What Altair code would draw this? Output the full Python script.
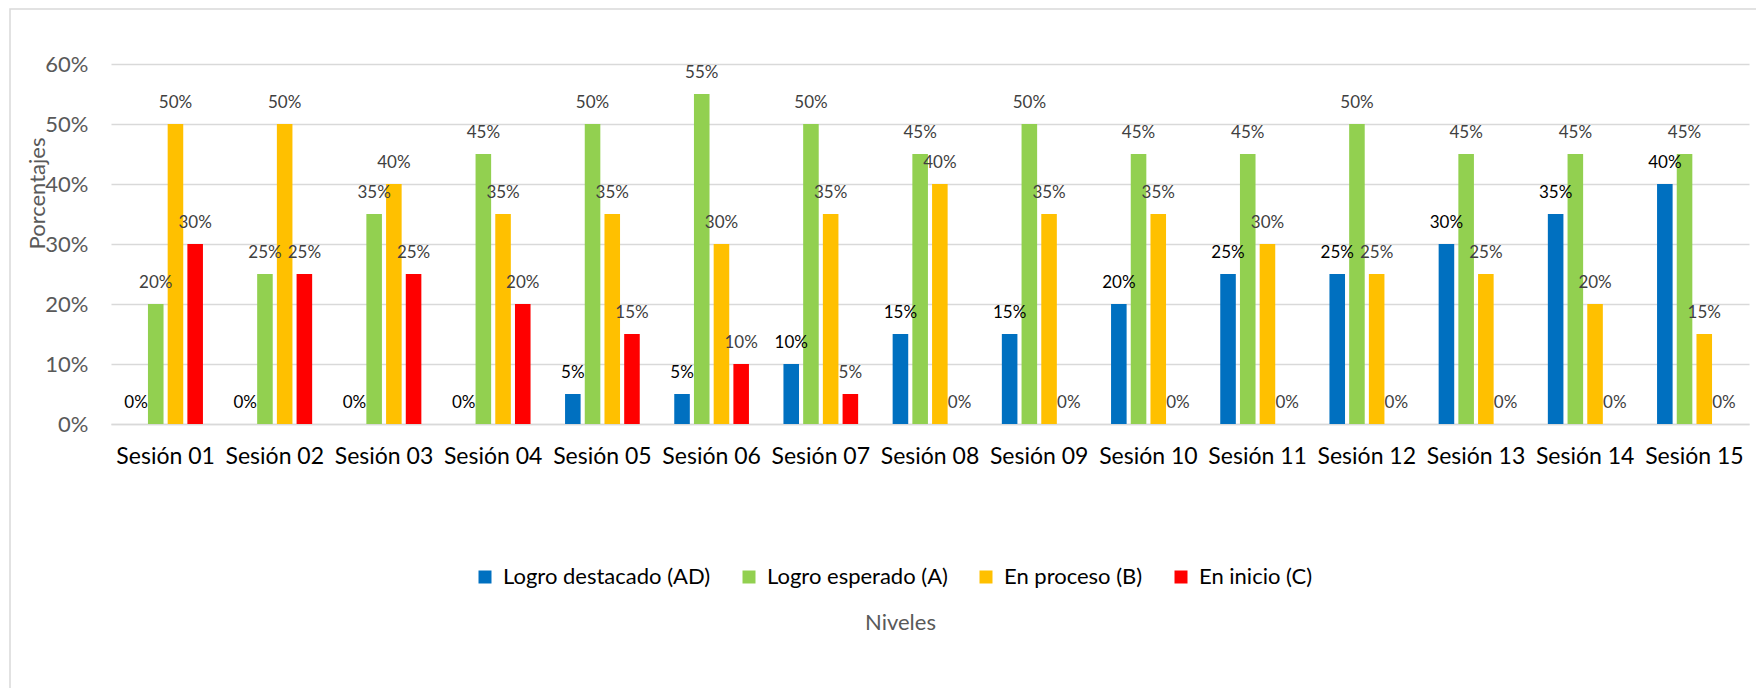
import altair as alt
import pandas as pd

sessions = ["Sesión 01", "Sesión 02", "Sesión 03", "Sesión 04", "Sesión 05",
            "Sesión 06", "Sesión 07", "Sesión 08", "Sesión 09", "Sesión 10",
            "Sesión 11", "Sesión 12", "Sesión 13", "Sesión 14", "Sesión 15"]
levels = ["Logro destacado (AD)", "Logro esperado (A)", "En proceso (B)", "En inicio (C)"]
colors = ["#0070C0", "#92D050", "#FFC000", "#FF0000"]

ad = [0, 0, 0, 0, 5, 5, 10, 15, 15, 20, 25, 25, 30, 35, 40]
a = [20, 25, 35, 45, 50, 55, 50, 45, 50, 45, 45, 50, 45, 45, 45]
b = [50, 50, 40, 35, 35, 30, 35, 40, 35, 35, 30, 25, 25, 20, 15]
c = [30, 25, 25, 20, 15, 10, 5, 0, 0, 0, 0, 0, 0, 0, 0]

rows = []
for lvl, vals in zip(levels, [ad, a, b, c]):
    for s, v in zip(sessions, vals):
        rows.append({"Sesion": s, "Nivel": lvl, "Valor": v / 100})
df = pd.DataFrame(rows)

FONT = "Lato"
W, H = 1638, 360

base = alt.Chart(df)

x_enc = alt.X("Sesion:N", sort=sessions,
              scale=alt.Scale(paddingInner=0, paddingOuter=0),
              axis=alt.Axis(title="Niveles", labelAngle=0, labelFontSize=23,
                            labelFont=FONT, labelColor="#000000", labelPadding=21,
                            ticks=False, domain=True, domainColor="#d9d9d9",
                            domainWidth=1.5, titleFont=FONT, titleFontSize=22,
                            titleFontWeight="normal", titleColor="#595959",
                            titleX=789, titleY=205, titleBaseline="alphabetic",
                            titleAlign="center"))
xo_enc = alt.XOffset("Nivel:N", sort=levels,
                     scale=alt.Scale(paddingInner=0.21, paddingOuter=0.875))
y_enc = alt.Y("Valor:Q",
              scale=alt.Scale(domain=[0, 0.6], nice=False),
              axis=alt.Axis(title="Porcentajes", format=".0%",
                            values=[0, 0.1, 0.2, 0.3, 0.4, 0.5, 0.6],
                            labelFontSize=22, labelFont=FONT, labelColor="#595959",
                            labelPadding=23, ticks=False, domain=False,
                            grid=True, gridColor="#d9d9d9", gridWidth=1.5,
                            titleFont=FONT, titleFontSize=22, titleFontWeight="normal",
                            titleColor="#595959", titleAngle=-90, titleX=-67,
                            titleY=129, titleBaseline="alphabetic", titleAlign="center"))

bars = base.mark_bar().encode(
    x=x_enc, xOffset=xo_enc, y=y_enc,
    color=alt.Color("Nivel:N", sort=levels,
                    scale=alt.Scale(domain=levels, range=colors),
                    legend=alt.Legend(title=None, orient="none", direction="horizontal",
                                      legendX=363, legendY=502, labelFont=FONT,
                                      labelFontSize=22, labelColor="#000000",
                                      labelLimit=500,
                                      symbolType="square", symbolSize=169,
                                      symbolStrokeWidth=0, labelOffset=7,
                                      columnPadding=27, padding=0)),
)

labels_ad = base.transform_filter(alt.datum.Nivel == levels[0]).mark_text(
    font=FONT, fontSize=17, color="#000000", baseline="alphabetic", dy=-16
).encode(x=alt.X("Sesion:N", sort=sessions), xOffset=alt.XOffset("Nivel:N", sort=levels),
         y="Valor:Q", text=alt.Text("Valor:Q", format=".0%"))

labels_other = base.transform_filter(alt.datum.Nivel != levels[0]).mark_text(
    font=FONT, fontSize=17, color="#404040", baseline="alphabetic", dy=-16
).encode(x=alt.X("Sesion:N", sort=sessions), xOffset=alt.XOffset("Nivel:N", sort=levels),
         y="Valor:Q", text=alt.Text("Valor:Q", format=".0%"))

border = alt.Chart(pd.DataFrame({"k": [0]})).mark_rect(
    filled=False, stroke="#d9d9d9", strokeWidth=1.5
).encode(x=alt.value(-101), x2=alt.value(1700), y=alt.value(-55), y2=alt.value(700))

chart = alt.layer(border, bars, labels_ad, labels_other).properties(
    width=W, height=H,
    autosize=alt.AutoSizeParams(type="none"),
    padding={"left": 103, "top": 56, "right": 7, "bottom": 264},
    background="#ffffff",
).configure_view(stroke=None)

chart.save("out.html", embed_options={"renderer": "svg", "actions": False})
